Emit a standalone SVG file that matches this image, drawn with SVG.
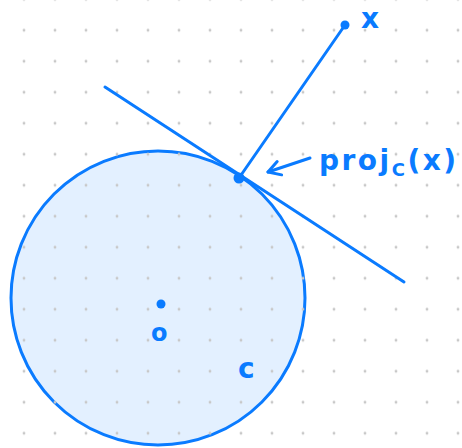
<svg xmlns="http://www.w3.org/2000/svg" width="462" height="448" viewBox="0 0 462 448">
<style>
.ln{stroke:#0a7bff;stroke-width:3;stroke-linecap:round;fill:none}
.lbl{font-family:"DejaVu Sans",sans-serif;fill:#0a7bff;font-weight:bold}
</style>
<defs>
<pattern id="grid" x="24" y="30.3" width="31" height="31" patternUnits="userSpaceOnUse">
<circle cx="0" cy="0" r="1.4" fill="#c8c8c8"/>
<circle cx="31" cy="0" r="1.4" fill="#c8c8c8"/>
<circle cx="0" cy="31" r="1.4" fill="#c8c8c8"/>
<circle cx="31" cy="31" r="1.4" fill="#c8c8c8"/>
</pattern>
<marker id="arr" viewBox="0 0 16 18" refX="2" refY="9" markerWidth="16" markerHeight="18" markerUnits="userSpaceOnUse" orient="auto">
<path d="M14 2 L2 9 L14 16" fill="none" stroke="#0a7bff" stroke-width="3" stroke-linecap="round" stroke-linejoin="round"/>
</marker>
</defs>
<rect width="462" height="448" fill="#ffffff"/>
<g id="set-C">
<circle cx="158" cy="298" r="147" fill="#e3f0ff" stroke="#0a7bff" stroke-width="3"/>
</g>
<rect width="462" height="448" fill="url(#grid)"/>
<g id="connectors">
<line class="ln" x1="105" y1="87" x2="404" y2="282"/>
<line class="ln" x1="239" y1="178" x2="345" y2="25"/>
<line class="ln" x1="268" y1="172" x2="310" y2="158" marker-start="url(#arr)"/>
</g>
<g id="point-x">
<circle cx="345" cy="25" r="4.5" fill="#0a7bff"/>
<text class="lbl" x="361" y="28" font-size="28">x</text>
</g>
<g id="point-proj">
<circle cx="239" cy="178" r="5.5" fill="#0a7bff"/>
<text class="lbl" x="319" y="170" font-size="28" letter-spacing="2.5">proj<tspan font-size="18" dy="6">C</tspan><tspan dy="-6" font-size="28">(x)</tspan></text>
</g>
<g id="point-o">
<circle cx="161" cy="304" r="4.5" fill="#0a7bff"/>
<text class="lbl" x="151" y="341" font-size="24">o</text>
</g>
<g id="label-C">
<text class="lbl" x="238" y="378" font-size="28">c</text>
</g>
</svg>
